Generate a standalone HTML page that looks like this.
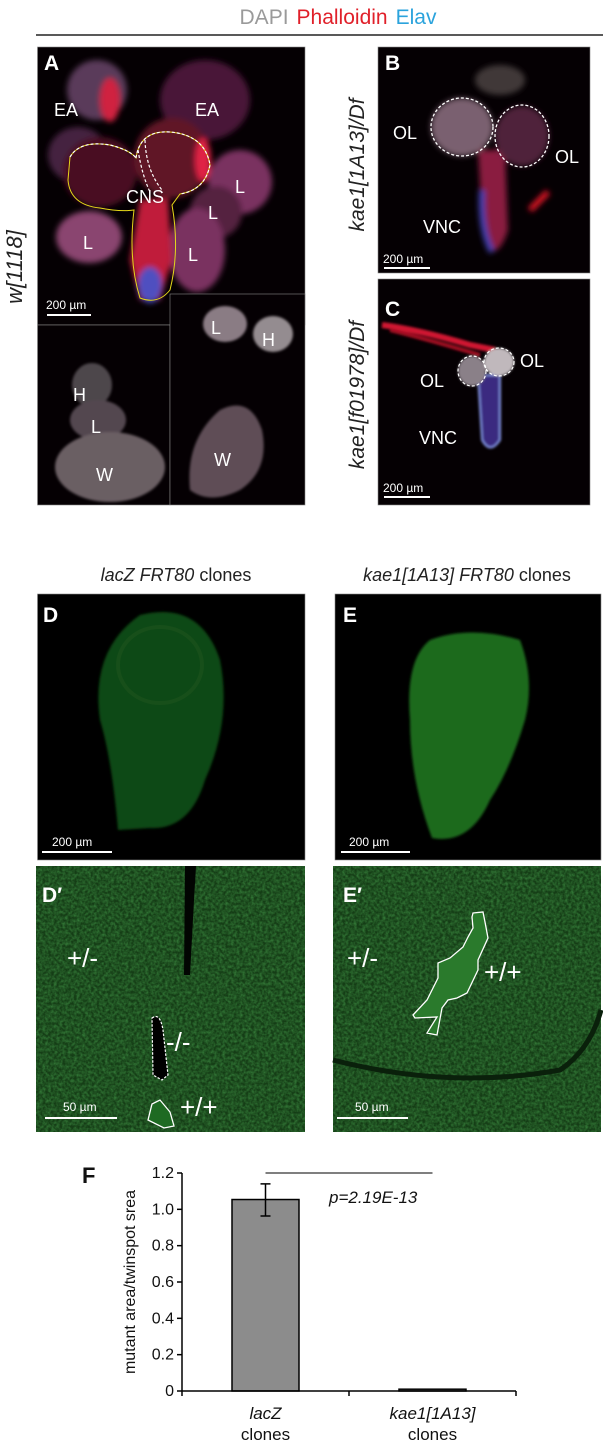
<!DOCTYPE html>
<html><head><meta charset="utf-8">
<style>
html,body{margin:0;padding:0;background:#fff;}
svg{display:block;font-family:"Liberation Sans",sans-serif;}
.lbl{fill:#fff;font-size:18px;}
.pl{fill:#fff;font-size:21px;font-weight:bold;}
.sb{fill:#fff;font-size:12px;}
</style></head>
<body>
<svg id="fig" width="603" height="1453" viewBox="0 0 603 1453">
<defs>
  <filter id="blur3"><feGaussianBlur stdDeviation="3"/></filter>
  <filter id="blur1"><feGaussianBlur stdDeviation="1.2"/></filter>
  <filter id="noise" x="0" y="0" width="100%" height="100%">
    <feTurbulence type="fractalNoise" baseFrequency="0.35" numOctaves="2" seed="3"/>
    <feColorMatrix values="0 0 0 0 0.1  0 0 0 0 0.55  0 0 0 0 0.12  0 0 0 0.9 -0.25"/>
  </filter>
</defs>

<text x="338" y="24" text-anchor="middle" font-size="21"><tspan fill="#9a9a9a">DAPI</tspan><tspan fill="#e0202a" dx="8">Phalloidin</tspan><tspan fill="#2ba3dc" dx="8">Elav</tspan></text>
<line x1="36" y1="35" x2="603" y2="35" stroke="#222" stroke-width="1.5"/>

<text transform="translate(22,267) rotate(-90)" text-anchor="middle" font-size="22" font-style="italic" fill="#222">w[1118]</text>
<text transform="translate(364,165) rotate(-90)" text-anchor="middle" font-size="21" font-style="italic" fill="#222">kae1[1A13]/Df</text>
<text transform="translate(364,395) rotate(-90)" text-anchor="middle" font-size="21" font-style="italic" fill="#222">kae1[f01978]/Df</text>

<g>
  <rect x="37.5" y="47" width="267.5" height="278" fill="#050003" stroke="#888" stroke-width="0.6"/>
  <g filter="url(#blur3)">
    <ellipse cx="97" cy="90" rx="30" ry="30" fill="#5a3a5a"/>
    <ellipse cx="205" cy="100" rx="45" ry="40" fill="#4a1838"/>
    <ellipse cx="78" cy="155" rx="30" ry="28" fill="#452040"/>
    <ellipse cx="240" cy="182" rx="32" ry="32" fill="#7a3060"/>
    <ellipse cx="216" cy="212" rx="26" ry="26" fill="#552040"/>
    <ellipse cx="89" cy="237" rx="33" ry="26" fill="#8a4470"/>
    <ellipse cx="197" cy="250" rx="28" ry="42" fill="#7a3060"/>
    <ellipse cx="100" cy="172" rx="37" ry="35" fill="#4a1020"/>
    <ellipse cx="172" cy="158" rx="38" ry="40" fill="#601528"/>
    <path d="M140,200 L168,198 L172,260 L160,300 L140,300 L130,260 Z" fill="#c01a3a"/>
    <ellipse cx="150" cy="285" rx="12" ry="18" fill="#5050c0"/>
    <ellipse cx="110" cy="100" rx="10" ry="22" fill="#d02040"/>
    <ellipse cx="203" cy="160" rx="8" ry="22" fill="#e02045"/>
  </g>
  <path d="M70,157 Q80,140 110,145 Q130,150 136,158 Q140,130 170,132 Q205,135 210,165 Q205,190 180,194 L172,205 Q180,250 170,290 Q158,305 140,298 Q128,260 134,210 Q120,212 100,208 Q70,205 68,180 Z" fill="none" stroke="#e6d81a" stroke-width="1"/>
  <path d="M70,157 Q80,140 110,145 Q130,150 136,158 M136,158 Q140,130 170,132 Q205,135 210,165 Q205,190 180,194" fill="none" stroke="#fff" stroke-width="1.2" stroke-dasharray="3,2"/>
  <path d="M138,150 Q142,175 150,192 M145,140 Q146,170 162,190" fill="none" stroke="#fff" stroke-width="1.2" stroke-dasharray="3,2"/>
  <text class="pl" x="44" y="70">A</text>
  <text class="lbl" x="54" y="116">EA</text>
  <text class="lbl" x="195" y="116">EA</text>
  <text class="lbl" x="126" y="203">CNS</text>
  <text class="lbl" x="235" y="193">L</text>
  <text class="lbl" x="208" y="219">L</text>
  <text class="lbl" x="83" y="249">L</text>
  <text class="lbl" x="188" y="261">L</text>
  <line x1="47" y1="315" x2="91" y2="315" stroke="#fff" stroke-width="2"/>
  <text class="sb" x="46" y="309">200 µm</text>
</g>
<g>
  <rect x="37.5" y="325" width="132.5" height="180" fill="#050003" stroke="#888" stroke-width="0.6"/>
  <g filter="url(#blur1)">
    <ellipse cx="92" cy="385" rx="20" ry="22" fill="#4e464c"/>
    <ellipse cx="98" cy="420" rx="28" ry="20" fill="#524650"/>
    <ellipse cx="110" cy="467" rx="55" ry="35" fill="#6a5e64"/>
  </g>
  <text class="lbl" x="73" y="401">H</text>
  <text class="lbl" x="91" y="433">L</text>
  <text class="lbl" x="96" y="481">W</text>
</g>
<g>
  <rect x="170" y="294" width="135" height="211" fill="#050003" stroke="#888" stroke-width="0.6"/>
  <g filter="url(#blur1)">
    <ellipse cx="225" cy="324" rx="22" ry="18" fill="#8a7c84"/>
    <ellipse cx="273" cy="334" rx="20" ry="18" fill="#948c90"/>
    <path d="M190,490 Q185,440 220,410 Q250,395 262,430 Q270,470 240,490 Q210,505 190,490 Z" fill="#5e4e56"/>
  </g>
  <text class="lbl" x="211" y="334">L</text>
  <text class="lbl" x="262" y="346">H</text>
  <text class="lbl" x="214" y="466">W</text>
</g>

<g>
  <rect x="378" y="47" width="212" height="226" fill="#050003" stroke="#888" stroke-width="0.6"/>
  <g filter="url(#blur3)">
    <path d="M478,150 L505,150 L508,230 Q500,255 490,250 L482,220 Z" fill="#8a1a40"/>
    <path d="M482,190 Q480,230 492,252" stroke="#4040b0" stroke-width="6" fill="none"/>
    <ellipse cx="462" cy="127" rx="31" ry="29" fill="#7a6070"/>
    <ellipse cx="522" cy="136" rx="27" ry="30" fill="#50203a"/>
    <ellipse cx="500" cy="80" rx="25" ry="15" fill="#403838"/>
    <path d="M530,210 L548,192" stroke="#e01828" stroke-width="6"/>
  </g>
  <ellipse cx="462" cy="127" rx="31" ry="29" fill="none" stroke="#fff" stroke-width="1.3" stroke-dasharray="3,2"/>
  <ellipse cx="522" cy="136" rx="27" ry="31" fill="none" stroke="#fff" stroke-width="1.3" stroke-dasharray="3,2"/>
  <text class="pl" x="385" y="70">B</text>
  <text class="lbl" x="393" y="139">OL</text>
  <text class="lbl" x="555" y="163">OL</text>
  <text class="lbl" x="423" y="233">VNC</text>
  <line x1="384" y1="268" x2="430" y2="268" stroke="#fff" stroke-width="2"/>
  <text class="sb" x="383" y="263">200 µm</text>
</g>

<g>
  <rect x="378" y="279" width="212" height="226" fill="#050003" stroke="#888" stroke-width="0.6"/>
  <g filter="url(#blur1)">
    <path d="M382,325 Q420,330 470,345 L495,350" stroke="#d01830" stroke-width="6" fill="none"/>
    <path d="M390,330 Q430,340 480,355" stroke="#a01020" stroke-width="4" fill="none"/>
    <path d="M478,375 L500,375 L500,440 Q490,455 482,440 Z" fill="#3a2a80" stroke="#8090e0" stroke-width="2"/>
    <ellipse cx="472" cy="371" rx="14" ry="15" fill="#8a8088"/>
    <ellipse cx="499" cy="362" rx="15" ry="14" fill="#c0b8bc"/>
  </g>
  <ellipse cx="472" cy="371" rx="14" ry="15" fill="none" stroke="#fff" stroke-width="1.2" stroke-dasharray="3,2"/>
  <ellipse cx="499" cy="362" rx="15" ry="14" fill="none" stroke="#fff" stroke-width="1.2" stroke-dasharray="3,2"/>
  <text class="pl" x="385" y="316">C</text>
  <text class="lbl" x="520" y="367">OL</text>
  <text class="lbl" x="420" y="387">OL</text>
  <text class="lbl" x="419" y="444">VNC</text>
  <line x1="384" y1="497" x2="430" y2="497" stroke="#fff" stroke-width="2"/>
  <text class="sb" x="383" y="492">200 µm</text>
</g>

<text x="176" y="581" text-anchor="middle" font-size="18" fill="#222"><tspan font-style="italic">lacZ FRT80</tspan> clones</text>
<text x="467" y="581" text-anchor="middle" font-size="18" fill="#222"><tspan font-style="italic">kae1[1A13] FRT80</tspan> clones</text>

<g>
  <rect x="37.5" y="594" width="267.5" height="266" fill="#000" stroke="#888" stroke-width="0.6"/>
  <path d="M118,830 Q112,760 100,720 Q90,650 140,615 Q200,600 220,660 Q232,720 205,780 Q190,830 150,828 Z" fill="#0e4a12" filter="url(#blur1)"/>
  <ellipse cx="160" cy="665" rx="42" ry="38" fill="none" stroke="#174f1a" stroke-width="4"/>
  <text class="pl" x="43" y="622">D</text>
  <line x1="42" y1="852" x2="112" y2="852" stroke="#fff" stroke-width="2"/>
  <text class="sb" x="52" y="846">200 µm</text>
</g>
<g>
  <rect x="335" y="594" width="266" height="266" fill="#000" stroke="#888" stroke-width="0.6"/>
  <path d="M432,838 Q410,780 410,720 Q405,660 430,640 Q470,625 520,640 Q535,680 525,720 Q510,770 490,800 Q470,845 432,838 Z" fill="#1a6a1c" filter="url(#blur1)"/>
  <text class="pl" x="343" y="622">E</text>
  <line x1="341" y1="852" x2="410" y2="852" stroke="#fff" stroke-width="2"/>
  <text class="sb" x="349" y="846">200 µm</text>
</g>

<g>
  <rect x="36" y="866" width="269" height="266" fill="#153d16"/>
  <rect x="36" y="866" width="269" height="266" filter="url(#noise)" opacity="0.8"/>
  <path d="M185,866 L196,866 L194,900 L190,975 L184,975 Z" fill="#020502"/>
  <path d="M152,1018 Q160,1012 163,1030 L168,1075 L162,1080 L153,1075 Z" fill="#000" stroke="#fff" stroke-width="1.2" stroke-dasharray="2.5,1.5"/>
  <path d="M148,1120 L152,1104 L160,1100 L170,1112 L174,1126 L164,1128 Z" fill="#1e6a22" stroke="#fff" stroke-width="1.3"/>
  <text class="pl" x="42" y="902">D′</text>
  <text fill="#fff" font-size="26" x="67" y="967">+/-</text>
  <text fill="#fff" font-size="26" x="166" y="1051">-/-</text>
  <text fill="#fff" font-size="26" x="180" y="1116">+/+</text>
  <line x1="45" y1="1118" x2="117" y2="1118" stroke="#fff" stroke-width="2"/>
  <text class="sb" x="63" y="1111">50 µm</text>
</g>
<g>
  <rect x="333" y="866" width="268" height="266" fill="#153d16"/>
  <rect x="333" y="866" width="268" height="266" filter="url(#noise)" opacity="0.8"/>
  <path d="M333,1060 Q450,1090 560,1070 Q590,1050 601,1010" fill="none" stroke="#0a200b" stroke-width="5"/>
  <path d="M473,913 L483,912 L485,922 L488,938 L478,960 L478,970 L467,993 L457,998 L448,1000 L442,1008 L437,1035 L427,1033 L437,1017 L415,1018 L413,1015 L427,1000 L438,978 L438,963 L450,958 L463,947 L468,937 L473,928 L472,917 Z" fill="#2a7a2c" stroke="#fff" stroke-width="1.3"/>
  <text class="pl" x="343" y="902">E′</text>
  <text fill="#fff" font-size="26" x="347" y="967">+/-</text>
  <text fill="#fff" font-size="26" x="484" y="981">+/+</text>
  <line x1="337" y1="1118" x2="408" y2="1118" stroke="#fff" stroke-width="2"/>
  <text class="sb" x="355" y="1111">50 µm</text>
</g>

<text x="82" y="1183" font-size="22" font-weight="bold" fill="#111">F</text>
<g id="chart"></g>
</svg>
<script>
const categories = ["lacZ", "kae1[1A13]"];
const values = [1.054, 0.01];
const errLow = [0.963, 0.01];
const errHigh = [1.14, 0.01];
const yTicks = [0, 0.2, 0.4, 0.6, 0.8, 1.0, 1.2];
const yTickLabels = ["0", "0.2", "0.4", "0.6", "0.8", "1.0", "1.2"];
const pLabel = "p=2.19E-13";

const NS = "http://www.w3.org/2000/svg";
const g = document.getElementById("chart");
const X0 = 182, X1 = 516, Y0 = 1391, Ytop = 1173, YMAX = 1.2;
const yS = v => Y0 - (v / YMAX) * (Y0 - Ytop);
const band = (X1 - X0) / categories.length;
const xC = i => X0 + band * (i + 0.5);
const barW = 67;
function mk(tag, attrs, parent) {
  const e = document.createElementNS(NS, tag);
  for (const k in attrs) e.setAttribute(k, attrs[k]);
  (parent || g).appendChild(e);
  return e;
}
const yAxis = mk("line", {x1: X0, y1: Ytop, x2: X0, y2: Y0, stroke: "#000", "stroke-width": 1.5});


yTicks.forEach((t, i) => {
  const tk = mk("line", {x1: X0 - 5, y1: yS(t), x2: X0, y2: yS(t), stroke: "#000", "stroke-width": 1.5});
  
  
  const tl = mk("text", {x: X0 - 8, y: yS(t) + 5, "text-anchor": "end", "font-size": 16, fill: "#111"});
  tl.textContent = yTickLabels[i];
  
  
});
const yt = mk("text", {transform: "translate(135," + ((Ytop + Y0) / 2) + ") rotate(-90)", "text-anchor": "middle", "font-size": 16, fill: "#111"});
yt.textContent = "mutant area/twinspot srea";


categories.forEach((c, i) => {
  const top = yS(values[i]);
  const b = mk("rect", {x: xC(i) - barW / 2, y: top, width: barW, height: Y0 - top, fill: "#8c8c8c", stroke: "#000", "stroke-width": 1.5});
  
  
  if (errHigh[i] - errLow[i] > 0.001) {
    const eb = mk("path", {d: `M${xC(i)},${yS(errLow[i])}V${yS(errHigh[i])}M${xC(i)-5},${yS(errLow[i])}h10M${xC(i)-5},${yS(errHigh[i])}h10`, stroke: "#000", "stroke-width": 1.5, fill: "none"});
    
    
  }
  const l1 = mk("text", {x: xC(i), y: 1419, "text-anchor": "middle", "font-size": 17, "font-style": "italic", fill: "#111"});
  l1.textContent = c;
  
  
  const l2 = mk("text", {x: xC(i), y: 1440, "text-anchor": "middle", "font-size": 17, fill: "#111"});
  l2.textContent = "clones";
  
  
});
const xAxis = mk("line", {x1: X0, y1: Y0, x2: X1, y2: Y0, stroke: "#000", "stroke-width": 1.5});


[0, 1, 2].forEach(k => {
  const t = mk("line", {x1: X0 + band * k, y1: Y0, x2: X0 + band * k, y2: Y0 + 5, stroke: "#000", "stroke-width": 1.5});
  
  
});
const sig = mk("line", {x1: xC(0), y1: Ytop, x2: xC(1), y2: Ytop, stroke: "#333", "stroke-width": 1.2});


const pt = mk("text", {x: 329, y: 1203, "font-size": 17, "font-style": "italic", fill: "#111"});
pt.textContent = pLabel;


</script>
</body></html>
